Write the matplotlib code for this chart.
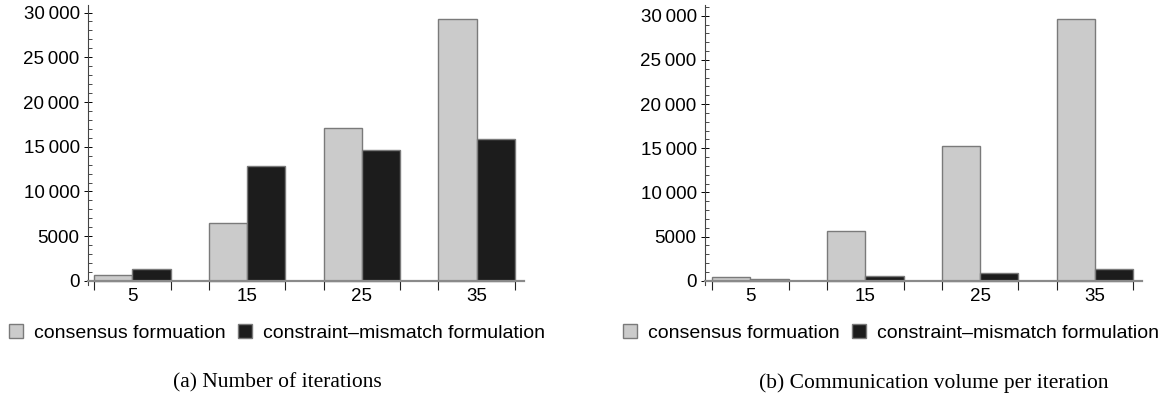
import numpy as np
import matplotlib
matplotlib.use("Agg")
import matplotlib.pyplot as plt
from matplotlib.patches import Patch
from matplotlib.ticker import MultipleLocator, FixedLocator, FuncFormatter

# values
agents = ["5", "15", "25", "35"]
iter_consensus = [670, 6450, 17130, 29310]
iter_mismatch = [1300, 12850, 14600, 15830]
comm_consensus = [450, 5590, 15250, 29660]
comm_mismatch = [160, 570, 905, 1290]
series_names = ["consensus formuation", "constraint\u2013mismatch formulation"]
captions = ["(a) Number of iterations", "(b) Communication volume per iteration"]

light = "#cbcbcb"
dark = "#1c1c1c"
edge = "#7a7a7a"

plt.rcParams["font.family"] = ["Liberation Sans", "DejaVu Sans"]

fig = plt.figure(figsize=(11.74, 3.96), dpi=100)


def fmt(v, pos):
    v = int(round(v))
    if v >= 10000:
        return f"{v // 1000}\u2009{v % 1000:03d}"
    return str(v)


def panel(rect, a, b, xlim, ylim):
    ax = fig.add_axes(rect)
    x = np.arange(len(agents))
    w = 0.334
    ax.bar(x - w / 2, a, w, color=light, edgecolor=edge, linewidth=1.0)
    ax.bar(x + w / 2, b, w, color=dark, edgecolor=edge, linewidth=1.0)
    ax.set_xlim(*xlim)
    ax.set_ylim(*ylim)
    for s in ["top", "right"]:
        ax.spines[s].set_visible(False)
    ax.spines["bottom"].set_position(("data", 0))
    ax.spines["bottom"].set_color("#8a8a8a")
    ax.spines["bottom"].set_linewidth(1.6)
    ax.spines["left"].set_color("#444444")
    ax.spines["left"].set_linewidth(0.8)
    ax.set_xticks(x)
    ax.set_xticklabels(agents)
    ax.xaxis.set_minor_locator(FixedLocator(np.concatenate([x - w, x + w])))
    ax.tick_params(axis="x", which="major", length=0, pad=5, labelsize=13.5)
    ax.tick_params(axis="x", which="minor", length=6.5, width=0.8, color="#222222", direction="out")
    ax.yaxis.set_major_locator(MultipleLocator(5000))
    ax.yaxis.set_minor_locator(MultipleLocator(1000))
    ax.yaxis.set_major_formatter(FuncFormatter(fmt))
    ax.tick_params(axis="y", which="major", direction="inout", length=6, width=0.7, labelsize=13.5, pad=3)
    ax.tick_params(axis="y", which="minor", direction="in", length=3, width=0.5)
    return ax


panel([88 / 1174, 111 / 396, 436 / 1174, 280 / 396], iter_consensus, iter_mismatch,
      (-0.386, 3.412), (-450, 30840))
panel([705 / 1174, 111 / 396, 437 / 1174, 280 / 396], comm_consensus, comm_mismatch,
      (-0.394, 3.41), (-490, 31210))

handles = [Patch(facecolor=light, edgecolor=edge), Patch(facecolor=dark, edgecolor=edge)]
for cx in [277 / 1174, 891 / 1174]:
    fig.legend(handles, series_names, loc="center", bbox_to_anchor=(cx, 1 - 333 / 396),
               ncol=2, frameon=False, fontsize=14, handlelength=0.7, handleheight=0.7,
               handletextpad=0.57, columnspacing=0.67, borderpad=0, borderaxespad=0)
for cx, cap in zip([277.5 / 1174, 933.7 / 1174], captions):
    fig.text(cx, 1 - 383 / 396, cap, ha="center", va="center",
             family=["Liberation Serif", "DejaVu Serif"], fontsize=15.5)

fig.savefig("out.png", dpi=100)
